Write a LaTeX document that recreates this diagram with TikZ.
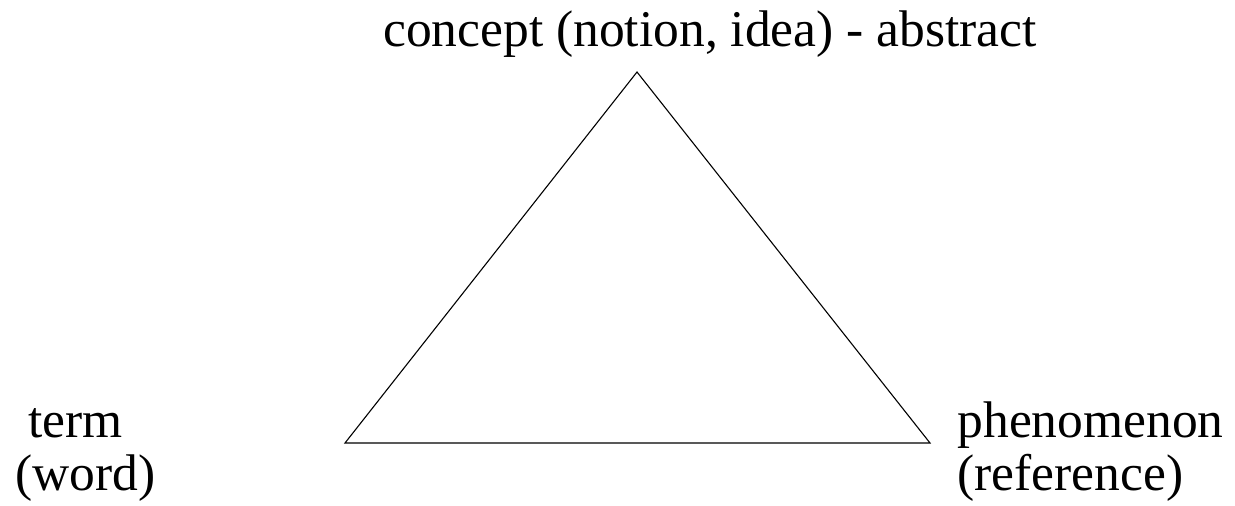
\documentclass[tikz,border=0pt]{standalone}
\usepackage{fontspec}
\setmainfont{Liberation Serif}
\usetikzlibrary{positioning}

\begin{document}
\begin{tikzpicture}[x=1pt, y=-1pt, line width=1.1pt,
	label/.style={inner sep=0pt, font=\fontsize{51.5}{53}\selectfont}]
\useasboundingbox (0,0) rectangle (1235,506);

% ---- vertices ----
\coordinate (apex) at (637,72);
\coordinate (left) at (345,443);
\coordinate (right) at (930,443);
\draw (apex) -- (right) -- (left) -- cycle;

% ---- labels ----
\node[label, anchor=base] (concept) at (710,46) {concept (notion, idea) - abstract};
\node[label, anchor=base west, align=left] (term) at (15,490) {\ term\\(word)};
\node[label, anchor=base west, align=left] (phen) at (957,490) {phenomenon\\(reference)};
\end{tikzpicture}
\end{document}
